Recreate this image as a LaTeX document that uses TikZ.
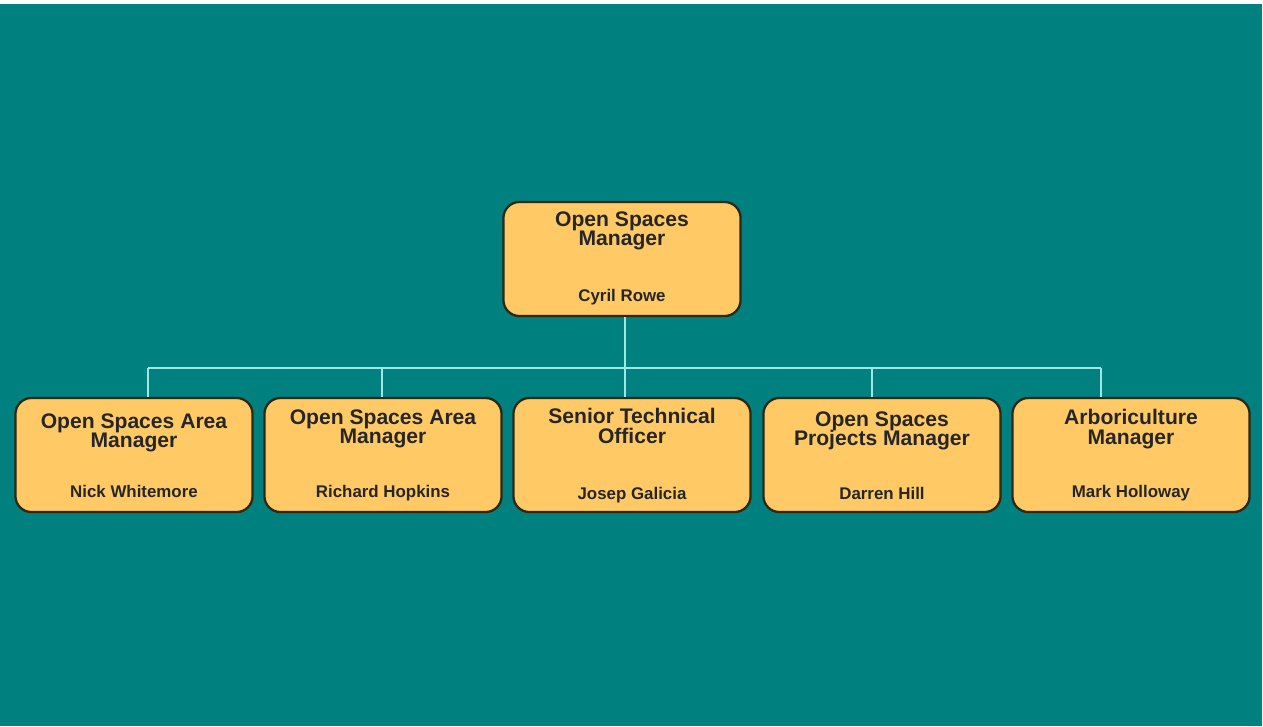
\documentclass[tikz,border=0pt]{standalone}
\usepackage{fontspec}
\setmainfont{Liberation Sans}
\usetikzlibrary{positioning}
\definecolor{teal bg}{RGB}{0,128,127}
\definecolor{box fill}{RGB}{255,201,102}
\definecolor{box line}{RGB}{45,40,20}
\definecolor{link line}{RGB}{160,230,228}
\newcommand\roletitlefont{\bfseries\fontsize{6}{5.5}\selectfont\lineskiplimit=-5pt\relax}

\begin{document}
\begin{tikzpicture}[x=0.01cm,y=-0.01cm,
        role box/.style={draw=box line, fill=box fill, line width=0.65pt,
            rounded corners=0.16cm, minimum width=2.37cm, minimum height=1.14cm,
            inner sep=0pt},
        role title/.style={font=\roletitlefont,
            align=center, inner sep=0pt, text=black!85},
        role name/.style={font=\bfseries\fontsize{4.8}{5}\selectfont,
            inner sep=0pt, text=black!85},
        link/.style={draw=link line, line width=0.7pt}]
    \useasboundingbox (0,0) rectangle (1263,726);
    \fill[teal bg] (0,4) rectangle (1262,726);
    % top of the tree
    \draw (622,259) node (head) [role box] {};
    \node (head title) [role title, below=0.10cm of head.north] {Open Spaces\\Manager};
    \node (head name) [role name, above=0.11cm of head.south] {Cyril Rowe};
    % second row
    \draw (134,455) node (area1) [role box] {};
    \node [role title, below=0.16cm of area1.north] {Open Spaces Area\\Manager};
    \node [role name, above=0.15cm of area1.south] {Nick Whitemore};
    \draw (383,455) node (area2) [role box] {};
    \node [role title, below=0.12cm of area2.north] {Open Spaces Area\\Manager};
    \node [role name, above=0.11cm of area2.south] {Richard Hopkins};
    \draw (632,455) node (senior) [role box] {};
    \node [role title, below=0.11cm of senior.north] {Senior Technical\\Officer};
    \node [role name, above=0.09cm of senior.south] {Josep Galicia};
    \draw (882,455) node (projects) [role box] {};
    \node [role title, below=0.14cm of projects.north] {Open Spaces\\Projects Manager};
    \node [role name, above=0.13cm of projects.south] {Darren Hill};
    \draw (1131,455) node (arbor) [role box] {};
    \node [role title, below=0.12cm of arbor.north] {Arboriculture\\Manager};
    \node [role name, above=0.11cm of arbor.south] {Mark Holloway};
    % connectors
    \coordinate (bus) at (625,368);
    \coordinate (drop1) at (148,368);
    \coordinate (drop2) at (382,368);
    \coordinate (drop3) at (625,368);
    \coordinate (drop4) at (872,368);
    \coordinate (drop5) at (1101,368);
    \draw[link] (head.south -| bus) -- (bus);
    \draw[link] (drop1) -- (drop5);
    \draw[link] (drop1) -- (drop1 |- area1.north);
    \draw[link] (drop2) -- (drop2 |- area2.north);
    \draw[link] (drop3) -- (drop3 |- senior.north);
    \draw[link] (drop4) -- (drop4 |- projects.north);
    \draw[link] (drop5) -- (drop5 |- arbor.north);
\end{tikzpicture}
\end{document}
